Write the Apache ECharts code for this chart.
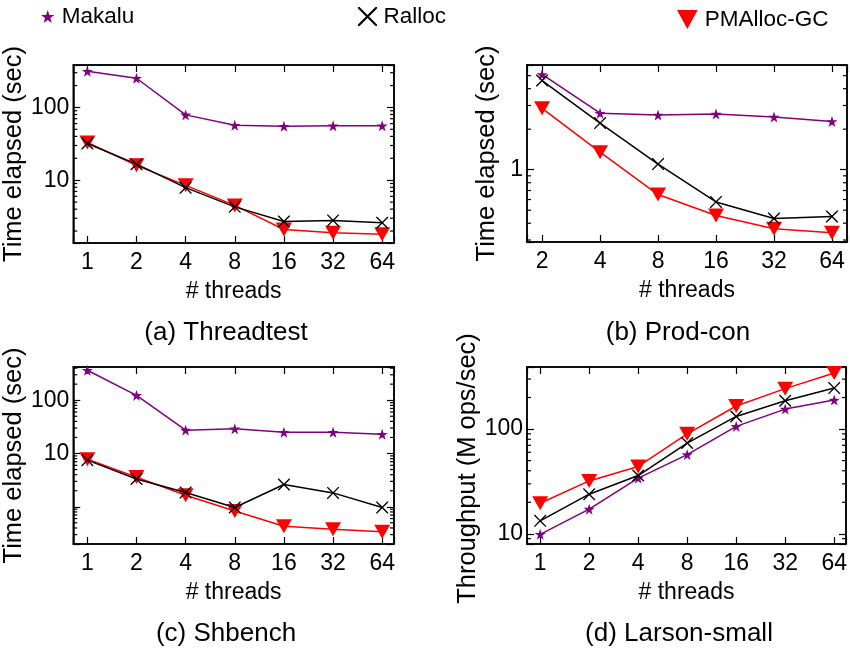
<!DOCTYPE html>
<html>
<head>
<meta charset="utf-8">
<script src="https://cdn.jsdelivr.net/npm/echarts@6/dist/echarts.min.js"></script>
<style>
html, body { margin: 0; padding: 0; background: #fff; }
#main { width: 850px; height: 654px; }
</style>
</head>
<body>
<div id="main"></div>
<script>
// thread counts on the x axes
var threads = [1, 2, 4, 8, 16, 32, 64];
var threadsProd = [2, 4, 8, 16, 32, 64];

// (a) Threadtest, seconds
var ttMakalu = [314, 252, 79, 57, 55, 56, 56];
var ttRalloc = [32, 16.6, 7.9, 4.3, 2.7, 2.8, 2.6];
var ttPmalloc = [33, 16, 8.5, 4.5, 2.1, 1.9, 1.8];

// (b) Prod-con, seconds
var pcMakalu = [5.1, 2.63, 2.55, 2.59, 2.46, 2.28];
var pcRalloc = [4.6, 2.22, 1.10, 0.576, 0.433, 0.449];
var pcPmalloc = [2.86, 1.35, 0.653, 0.456, 0.364, 0.34];

// (c) Shbench, seconds
var sbMakalu = [365, 123, 27.4, 29, 25, 25, 23];
var sbRalloc = [7.5, 3.33, 1.85, 0.97, 2.62, 1.82, 0.97];
var sbPmalloc = [7.8, 3.6, 1.65, 0.83, 0.43, 0.38, 0.34];

// (d) Larson-small, M ops/sec
var lsMakalu = [9.9, 17.2, 34, 57, 106, 155, 189];
var lsRalloc = [13.3, 23.9, 36, 73.5, 132, 186, 246];
var lsPmalloc = [19.6, 32, 44, 90, 166, 243, 343];

// labelled y ticks per panel
var yLabelsA = [10, 100];
var yLabelsB = [1];
var yLabelsC = [10, 100];
var yLabelsD = [10, 100];
var minorSteps = [2, 3, 4, 5, 6, 7, 8, 9];

var FONT = '"Liberation Sans", Arial, Helvetica, sans-serif';
var PURPLE = '#800080';
var STAR = 'path://M50,0 L61.8,35.5 L98,35.5 L68.8,57.5 L79.5,93 L50,71.5 L20.5,93 L31.2,57.5 L2,35.5 L38.2,35.5 Z';
var CROSS = 'path://M0,0 L8,0 L50,42 L92,0 L100,0 L100,8 L58,50 L100,92 L100,100 L92,100 L50,58 L8,100 L0,100 L0,92 L42,50 L0,8 Z';
var TRI = 'path://M0,0 L100,0 L50,92 Z';

var panels = [
  { left: 73, top: 65, w: 321, h: 178, x: threads, xmin: 0.82, xmax: 75.6, ymin: 1.37, ymax: 383,
    yLabels: yLabelsA, yName: 'Time elapsed (sec)', yGap: 44, yPad: [0, 0, 0, 0],
    title: '(a) Threadtest', tx: 226, ty: 320, data: [ttMakalu, ttRalloc, ttPmalloc] },
  { left: 527, top: 65, w: 321, h: 177, x: threadsProd, xmin: 1.67, xmax: 76.6, ymin: 0.29, ymax: 6,
    yLabels: yLabelsB, yName: 'Time elapsed (sec)', yGap: 27, yPad: [0, 0, 0, 0],
    title: '(b) Prod-con', tx: 678, ty: 320, data: [pcMakalu, pcRalloc, pcPmalloc] },
  { left: 73, top: 367, w: 321, h: 177, x: threads, xmin: 0.82, xmax: 75.6, ymin: 0.2, ymax: 420,
    yLabels: yLabelsC, yName: 'Time elapsed (sec)', yGap: 44, yPad: [0, 0, 0, 0],
    title: '(c) Shbench', tx: 226, ty: 621, data: [sbMakalu, sbRalloc, sbPmalloc] },
  { left: 527, top: 367, w: 321, h: 177, x: threads, xmin: 0.83, xmax: 75.6, ymin: 8.0, ymax: 391,
    yLabels: yLabelsD, yName: 'Throughput (M ops/sec)', yGap: 43, yPad: [0, 26, 0, 0],
    title: '(d) Larson-small', tx: 679, ty: 621, data: [lsMakalu, lsRalloc, lsPmalloc] }
];

var names = ['Makalu', 'Ralloc', 'PMAlloc-GC'];
var colors = [PURPLE, '#000', '#ff0000'];
var symbols = [STAR, CROSS, TRI];
var sizes = [11, 12, [16, 14]];
var zs = [4, 5, 3];

function labelOf(list, v) {
  for (var i = 0; i < list.length; i++) {
    if (Math.abs(list[i] - v) < 1e-6 * list[i]) return String(list[i]);
  }
  return '';
}

var axisLine = { lineStyle: { color: '#000', width: 1.5 } };
var tick = { inside: true, length: 7, lineStyle: { color: '#000', width: 1.2 } };

var grid = [], xAxis = [], yAxis = [], series = [], title = [];

panels.forEach(function (p, i) {
  grid.push({ left: p.left, top: p.top, width: p.w, height: p.h, show: true,
    borderColor: '#000', borderWidth: 1.5, containLabel: false });

  var xl = p.x;
  xAxis.push({
    gridIndex: i, type: 'log', logBase: 2, min: p.xmin, max: p.xmax, position: 'bottom',
    axisLine: axisLine, axisTick: tick, splitLine: { show: false }, minorTick: { show: false },
    axisLabel: { color: '#000', fontSize: 23, fontFamily: FONT, margin: 8,
      formatter: function (v) { return labelOf(xl, v); } },
    name: '# threads', nameLocation: 'middle', nameGap: 37,
    nameTextStyle: { color: '#000', fontSize: 23, fontFamily: FONT }
  });
  xAxis.push({
    gridIndex: i, type: 'log', logBase: 2, min: p.xmin, max: p.xmax, position: 'top',
    axisLine: axisLine, axisTick: tick, splitLine: { show: false }, axisLabel: { show: false }
  });

  var yl = p.yLabels;
  yAxis.push({
    gridIndex: i, type: 'log', min: p.ymin, max: p.ymax, position: 'left',
    axisLine: axisLine, axisTick: tick, splitLine: { show: false },
    axisLabel: { color: '#000', fontSize: 23, fontFamily: FONT, margin: 4,
      formatter: function (v) { return labelOf(yl, v); } },
    name: p.yName, nameLocation: 'middle', nameGap: p.yGap,
    nameTextStyle: { color: '#000', fontSize: 25.5, fontFamily: FONT, padding: p.yPad }
  });
  yAxis.push({
    gridIndex: i, type: 'log', min: p.ymin, max: p.ymax, position: 'right',
    axisLine: axisLine, axisTick: tick, splitLine: { show: false }, axisLabel: { show: false }
  });

  // minor log ticks (2..9 x 10^k) on both sides
  var minors = [];
  for (var k = -1; k <= 2; k++) {
    minorSteps.forEach(function (m) {
      var v = m * Math.pow(10, k);
      if (v > p.ymin && v < p.ymax) minors.push([8, v]);
    });
  }
  series.push({
    type: 'custom', xAxisIndex: 2 * i, yAxisIndex: 2 * i, silent: true, z: 1,
    data: minors,
    renderItem: function (params, api) {
      var cs = params.coordSys;
      var y = api.coord([api.value(0), api.value(1)])[1];
      var st = { stroke: '#000', lineWidth: 1.2 };
      return { type: 'group', children: [
        { type: 'line', shape: { x1: cs.x, y1: y, x2: cs.x + 4, y2: y }, style: st },
        { type: 'line', shape: { x1: cs.x + cs.width, y1: y, x2: cs.x + cs.width - 4, y2: y }, style: st }
      ] };
    }
  });

  p.data.forEach(function (vals, s) {
    series.push({
      name: names[s], type: 'line', xAxisIndex: 2 * i, yAxisIndex: 2 * i,
      data: vals.map(function (v, j) { return [p.x[j], v]; }),
      symbol: symbols[s], symbolSize: sizes[s], z: zs[s],
      lineStyle: { color: colors[s], width: 1.5 },
      itemStyle: { color: colors[s] },
      animation: false
    });
  });

  title.push({ text: p.title, left: p.tx, top: p.ty, textAlign: 'center', padding: 0,
    textStyle: { color: '#000', fontSize: 26, fontWeight: 'normal', fontFamily: FONT } });
});

var legendText = { color: '#000', fontSize: 22.5, fontFamily: FONT };
var option = {
  animation: false,
  title: title,
  legend: [
    { data: [{ name: 'Makalu', icon: STAR }], left: 41, top: 5, padding: 0,
      itemWidth: 18, itemHeight: 13, textStyle: legendText, selectedMode: false },
    { data: [{ name: 'Ralloc', icon: CROSS }], left: 358, top: 5, padding: 0,
      itemWidth: 22, itemHeight: 19, textStyle: legendText, selectedMode: false },
    { data: [{ name: 'PMAlloc-GC', icon: TRI }], left: 677, top: 8, padding: 0,
      itemWidth: 25, itemHeight: 19, textStyle: legendText, selectedMode: false }
  ],
  grid: grid,
  xAxis: xAxis,
  yAxis: yAxis,
  series: series
};

var myChart = echarts.init(document.getElementById('main'));
myChart.setOption(option);
</script>
</body>
</html>
